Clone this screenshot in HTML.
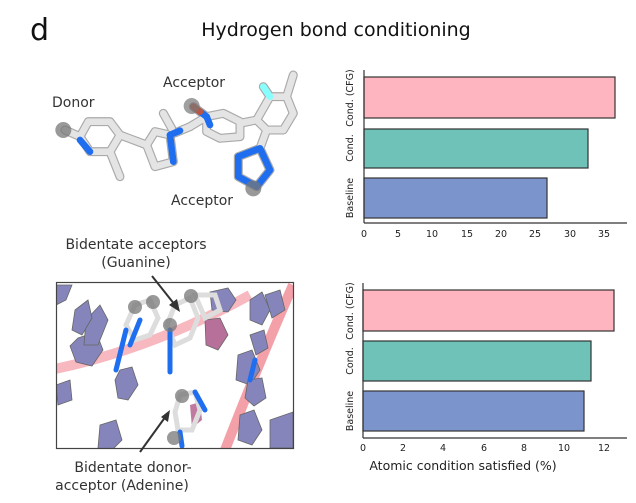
<!DOCTYPE html>
<html><head><meta charset="utf-8"><style>
body{margin:0;background:#fff;width:636px;height:498px;overflow:hidden;font-family:"Liberation Sans","DejaVu Sans",sans-serif;}
</style></head><body>
<svg width="636" height="498" viewBox="0 0 636 498" xmlns="http://www.w3.org/2000/svg" font-family="DejaVu Sans, Liberation Sans, sans-serif">
<text x="30" y="40" font-size="30" fill="#111">d</text>
<text x="336" y="36" font-size="19" fill="#111" text-anchor="middle">Hydrogen bond conditioning</text>

<!-- top molecule -->
<g transform="translate(40,60) scale(0.3333)" fill="none" stroke-linejoin="round" stroke-linecap="round">
 <g stroke="#aaa" stroke-width="27">
  <polyline points="75,210 120,230 145,185 210,185 240,225 210,275 150,275 120,230"/>
  <line x1="210" y1="275" x2="240" y2="350"/><line x1="240" y1="225" x2="320" y2="255"/>
  <polygon points="320,255 345,215 390,225 400,305 345,320"/>
  <line x1="390" y1="225" x2="450" y2="200"/><line x1="370" y1="160" x2="395" y2="205"/>
  <polyline points="450,200 500,170 550,160 600,185 600,230 540,235 500,215 500,170"/>
  <line x1="500" y1="170" x2="460" y2="140"/>
  <line x1="600" y1="190" x2="650" y2="180"/>
  <polygon points="650,180 690,110 740,110 760,160 730,210 680,210"/>
  <line x1="740" y1="110" x2="760" y2="45"/><line x1="690" y1="110" x2="670" y2="80"/>
  <line x1="680" y1="210" x2="660" y2="265"/>
  <polygon points="660,265 690,330 650,380 595,350 595,290"/>
 </g>
 <g stroke="#e4e4e4" stroke-width="20">
  <polyline points="75,210 120,230 145,185 210,185 240,225 210,275 150,275 120,230"/>
  <line x1="210" y1="275" x2="240" y2="350"/><line x1="240" y1="225" x2="320" y2="255"/>
  <polygon points="320,255 345,215 390,225 400,305 345,320"/>
  <line x1="390" y1="225" x2="450" y2="200"/><line x1="370" y1="160" x2="395" y2="205"/>
  <polyline points="450,200 500,170 550,160 600,185 600,230 540,235 500,215 500,170"/>
  <line x1="600" y1="190" x2="650" y2="180"/>
  <polygon points="650,180 690,110 740,110 760,160 730,210 680,210"/>
  <line x1="740" y1="110" x2="760" y2="45"/>
  <line x1="680" y1="210" x2="660" y2="265"/>
 </g>
 <g stroke="#1f6ef0" stroke-width="20">
  <line x1="120" y1="240" x2="150" y2="275"/><line x1="390" y1="225" x2="400" y2="305"/><line x1="390" y1="225" x2="420" y2="212"/>
  <line x1="500" y1="170" x2="510" y2="195"/><line x1="480" y1="155" x2="500" y2="170"/>
  <polygon points="660,265 690,330 650,380 595,350 595,290"/>
 </g>
 <line x1="690" y1="110" x2="670" y2="80" stroke="#8ff" stroke-width="20"/>
 <line x1="460" y1="140" x2="480" y2="155" stroke="#b54" stroke-width="20"/>
 <circle cx="70" cy="210" r="24" fill="#777" opacity="0.75"/>
 <circle cx="455" cy="138" r="24" fill="#777" opacity="0.7"/>
 <circle cx="640" cy="385" r="24" fill="#777" opacity="0.75"/>
</g>
<text x="52" y="107" font-size="14" fill="#333">Donor</text>
<text x="163" y="87" font-size="14" fill="#333">Acceptor</text>
<text x="171" y="205" font-size="14" fill="#333">Acceptor</text>

<!-- bottom image -->
<text x="136" y="249" font-size="14" fill="#333" text-anchor="middle">Bidentate acceptors</text>
<text x="136" y="267" font-size="14" fill="#333" text-anchor="middle">(Guanine)</text>
<clipPath id="c"><rect x="56" y="282" width="237" height="166"/></clipPath>
<g clip-path="url(#c)">
 <rect x="56" y="282" width="237" height="166" fill="#fff"/>
 <path d="M50,370 Q150,350 250,295" stroke="#f8b8c0" stroke-width="10" fill="none"/>
 <path d="M225,450 Q260,360 293,285" stroke="#f4a0a8" stroke-width="10" fill="none"/>
 <g fill="#8585bb" stroke="#666" stroke-width="0.8">
  <polygon points="78,338 96,332 103,350 92,366 76,362 70,346"/>
  <polygon points="86,320 100,305 108,320 98,345 84,345"/>
  <polygon points="75,310 88,300 92,318 82,335 72,330"/>
  <polygon points="120,370 132,367 138,385 128,400 118,398 115,380"/>
  <polygon points="100,425 116,420 122,440 110,452 98,448"/>
  <polygon points="56,385 70,380 72,400 58,405"/>
  <polygon points="56,285 72,285 66,300 56,305"/>
  <polygon points="238,355 252,350 260,370 250,385 236,380"/>
  <polygon points="248,380 262,378 266,398 254,406 245,398"/>
  <polygon points="240,415 254,410 262,430 252,445 238,440"/>
  <polygon points="270,420 293,412 293,448 270,448"/>
  <polygon points="250,300 262,292 270,310 262,325 250,320"/>
  <polygon points="210,292 228,288 236,300 228,312 212,310"/>
  <polygon points="265,295 280,290 285,310 272,318"/>
  <polygon points="250,335 264,330 268,348 256,355"/>
 </g>
 <polygon points="205,320 220,318 228,335 218,350 206,345" fill="#b77099" stroke="#666" stroke-width="0.8"/>
 <polygon points="190,405 200,402 202,420 192,428" fill="#c07aa0"/>
 <g stroke="#ddd" stroke-width="5" fill="none">
  <polygon points="135,305 150,300 158,318 150,335 135,340 126,325"/>
  <polygon points="175,305 190,298 198,318 190,338 175,345 167,325"/>
  <polygon points="180,395 195,392 200,410 192,430 178,430 175,412"/>
  <polygon points="195,295 215,295 220,310 205,318"/>
 </g>
 <g stroke="#1f6ef0" stroke-width="5" stroke-linecap="round">
  <line x1="126" y1="330" x2="116" y2="370"/><line x1="170" y1="330" x2="170" y2="372"/>
  <line x1="195" y1="392" x2="205" y2="410"/><line x1="180" y1="432" x2="182" y2="446"/>
  <line x1="250" y1="380" x2="255" y2="360"/><line x1="140" y1="320" x2="130" y2="345"/>
 </g>
 <g fill="#777" opacity="0.75">
  <circle cx="135" cy="307" r="7"/><circle cx="153" cy="302" r="7"/><circle cx="170" cy="325" r="7"/>
  <circle cx="191" cy="296" r="7"/><circle cx="182" cy="396" r="7"/><circle cx="174" cy="438" r="7"/>
 </g>
</g>
<rect x="56.5" y="282.5" width="237" height="166" fill="none" stroke="#444" stroke-width="1.2"/>
<line x1="152" y1="276" x2="175" y2="305" stroke="#333" stroke-width="2"/>
<polygon points="180,312 169,305 177,299" fill="#333"/>
<line x1="140" y1="452" x2="166" y2="416" stroke="#333" stroke-width="2"/>
<polygon points="170,410 168,422 161,417" fill="#333"/>
<text x="133" y="472" font-size="14" fill="#333" text-anchor="middle">Bidentate donor-</text>
<text x="122" y="490" font-size="14" fill="#333" text-anchor="middle">acceptor (Adenine)</text>

<!-- chart 1 -->
<g stroke="#333" stroke-width="1.2">
 <rect x="364" y="77" width="251" height="41" fill="#ffb5c0"/>
 <rect x="364" y="129" width="224" height="39" fill="#6fc2b8"/>
 <rect x="364" y="178" width="183" height="40" fill="#7b95cc"/>
 <line x1="364" y1="70" x2="364" y2="223"/><line x1="364" y1="223" x2="627" y2="223"/>
</g>
<g font-size="9.5" fill="#222" text-anchor="middle">
 <text x="364" y="237">0</text><text x="398" y="237">5</text><text x="432" y="237">10</text><text x="467" y="237">15</text><text x="501" y="237">20</text><text x="535" y="237">25</text><text x="570" y="237">30</text><text x="604" y="237">35</text>
 <text transform="translate(353,98) rotate(-90)">Cond. (CFG)</text>
 <text transform="translate(353,148) rotate(-90)">Cond.</text>
 <text transform="translate(353,198) rotate(-90)">Baseline</text>
 <text x="463" y="470" font-size="12.5">Atomic condition satisfied (%)</text>
</g>
<!-- chart 2 -->
<g stroke="#333" stroke-width="1.2">
 <rect x="363" y="290" width="251" height="41" fill="#ffb5c0"/>
 <rect x="363" y="341" width="228" height="40" fill="#6fc2b8"/>
 <rect x="363" y="391" width="221" height="40" fill="#7b95cc"/>
 <line x1="363" y1="283" x2="363" y2="438"/><line x1="363" y1="438" x2="627" y2="438"/>
</g>
<g font-size="9.5" fill="#222" text-anchor="middle">
 <text x="363" y="451">0</text><text x="403" y="451">2</text><text x="443" y="451">4</text><text x="484" y="451">6</text><text x="524" y="451">8</text><text x="564" y="451">10</text><text x="604" y="451">12</text>
 <text transform="translate(353,311) rotate(-90)">Cond. (CFG)</text>
 <text transform="translate(353,361) rotate(-90)">Cond.</text>
 <text transform="translate(353,411) rotate(-90)">Baseline</text>
</g>
</svg>
</body></html>
